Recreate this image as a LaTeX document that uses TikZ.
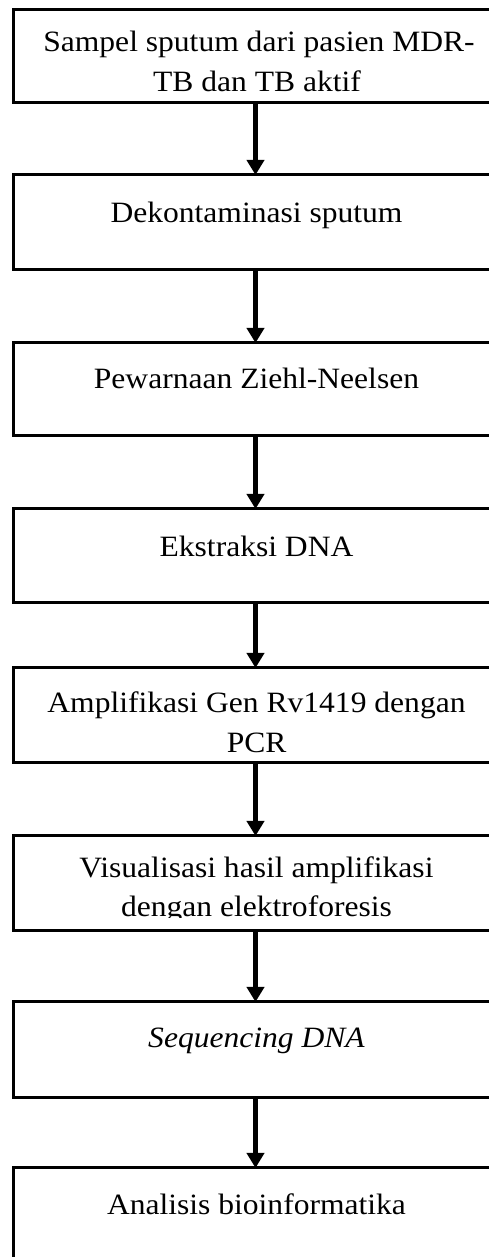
\documentclass[tikz,border=0pt]{standalone}
\usepackage{fontspec}
\setmainfont{Liberation Serif}[FakeStretch=1.07]
\usetikzlibrary{arrows.meta}
\begin{document}
\begin{tikzpicture}[x=1pt,y=1pt,
  stepbox/.style={draw, line width=3pt, inner sep=0pt, outer sep=0pt, minimum width=485pt},
  steptext/.style={anchor=base, inner sep=0pt, font=\fontsize{29.5}{40}\selectfont},
  flow/.style={line width=5pt, -{Triangle[width=17pt,length=15pt]}}]
\useasboundingbox (0,0) rectangle (489,1257);
\clip (0,0) rectangle (489,1257);
\fill[white] (0,0) rectangle (489,1257);

% boxes
\node[stepbox, minimum height=93.5pt] (b1) at (256,1200.75) {};
\node[stepbox, minimum height=95pt]   (b2) at (256,1034.5) {};
\node[stepbox, minimum height=93pt]   (b3) at (256,867.5) {};
\node[stepbox, minimum height=94pt]   (b4) at (256,701) {};
\node[stepbox, minimum height=95pt]   (b5) at (256,541.5) {};
\node[stepbox, minimum height=95pt]   (b6) at (256,373.5) {};
\node[stepbox, minimum height=96pt]   (b7) at (256,207) {};
\node[stepbox, minimum height=95pt]   (b8) at (256,41.5) {};

% texts
\node[steptext] (t1a) at (259,1205.3) {Sampel sputum dari pasien MDR-};
\node[steptext] (t1b) at (257,1165.3) {TB dan TB aktif};
\node[steptext] (t2)  at (256.5,1034) {Dekontaminasi sputum};
\node[steptext] (t3)  at (256.5,868) {Pewarnaan Ziehl-Neelsen};
\node[steptext] (t4)  at (256.5,700) {Ekstraksi DNA};
\node[steptext] (t5a) at (256.5,544) {Amplifikasi Gen Rv1419 dengan};
\node[steptext] (t5b) at (256.7,504) {PCR};
\node[steptext] (t6a) at (256.5,379.5) {Visualisasi hasil amplifikasi};
\begin{scope}
  \clip (0,339.5) rectangle (489,400);
  \node[steptext] (t6b) at (256.5,340) {dengan elektroforesis};
\end{scope}
\node[steptext] (t7)  at (256.5,209) {\itshape Sequencing DNA};
\node[steptext] (t8)  at (256.5,42) {Analisis bioinformatika};

% arrows
\draw[flow] (b1.south -| 255.5,0) -- (b2.north -| 255.5,0);
\draw[flow] (b2.south -| 255.5,0) -- (b3.north -| 255.5,0);
\draw[flow] (b3.south -| 255.5,0) -- (b4.north -| 255.5,0);
\draw[flow] (b4.south -| 255.5,0) -- (b5.north -| 255.5,0);
\draw[flow] (b5.south -| 255.5,0) -- (b6.north -| 255.5,0);
\draw[flow] (b6.south -| 255.5,0) -- (b7.north -| 255.5,0);
\draw[flow] (b7.south -| 255.5,0) -- (b8.north -| 255.5,0);
\end{tikzpicture}
\end{document}
